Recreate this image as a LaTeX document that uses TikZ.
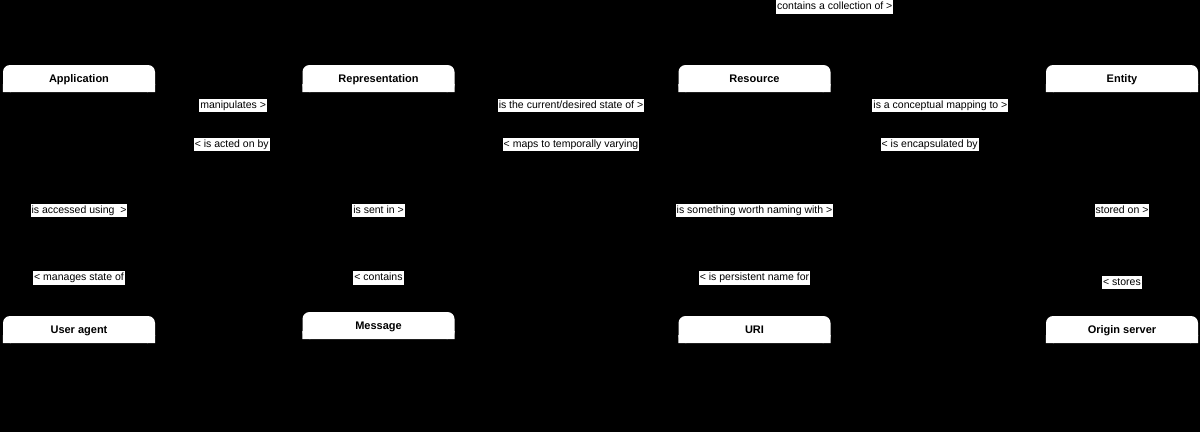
\documentclass[tikz,border=0pt]{standalone}
\usepackage{fontspec}
\setmainfont{Liberation Sans}

\begin{document}
\begin{tikzpicture}[x=1pt,y=-1pt,
    cls/.style={draw=black,minimum width=152pt,minimum height=100pt,inner sep=0pt},
    head/.style={fill=white,rounded corners=7pt,minimum width=152pt,minimum height=27pt,
      inner sep=0pt,text height=8pt,text depth=0pt,font=\fontsize{11}{13}\selectfont\bfseries,
      append after command={\pgfextra{\fill[white,sharp corners]
        (\tikzlastnode.south west) rectangle ++(8pt,8pt)
        (\tikzlastnode.south east) rectangle ++(-8pt,8pt);}}},
    lbl/.style={fill=white,inner xsep=1pt,inner ysep=1.5pt,text height=8pt,text depth=2.5pt,
      font=\fontsize{10.5}{12}\selectfont},
    rel/.style={draw=black,thin}]
      \useasboundingbox (0,0) rectangle (1200,432) ;
      \fill[black] (0,0) rectangle (1200,432) ;
      % classes
      \node[cls] (App) at (79,115) {} ;
      \node[cls] (Rep) at (378.5,115) {} ;
      \node[cls] (Res) at (754.5,115) {} ;
      \node[cls] (Ent) at (1122,115) {} ;
      \node[cls] (UA) at (79,366) {} ;
      \node[cls] (Msg) at (378.5,362) {} ;
      \node[cls] (URI) at (754.5,366) {} ;
      \node[cls] (OS) at (1122,366) {} ;
      \node[head,anchor=north] (hApp) at (App.north) {Application} ;
      \node[head,anchor=north] (hRep) at (Rep.north) {Representation} ;
      \node[head,anchor=north] (hRes) at (Res.north) {Resource} ;
      \node[head,anchor=north] (hEnt) at (Ent.north) {Entity} ;
      \node[head,anchor=north] (hUA) at (UA.north) {User agent} ;
      \node[head,anchor=north] (hMsg) at (Msg.north) {Message} ;
      \node[head,anchor=north] (hURI) at (URI.north) {URI} ;
      \node[head,anchor=north] (hOS) at (OS.north) {Origin server} ;
      % self relation of resource
      \coordinate (loop) at (915,7) ;
      \draw[rel] (Res.north) |- node[lbl,pos=.75]{contains a collection of >} (loop) |- (Res.east) ;
      % relations, left to right
      \draw[rel] (App.east |- 0,105.5) -- node[lbl,pos=.53]{manipulates >} (Rep.west |- 0,105.5)
        (Rep.west |- 0,144.5) -- node[lbl,pos=.48]{< is acted on by} (App.east |- 0,144.5) ;
      \draw[rel] (Rep.east |- 0,105.5) -- node[lbl,pos=.52]{is the current/desired state of >} (Res.west |- 0,105.5)
        (Res.west |- 0,144.5) -- node[lbl,pos=.48]{< maps to temporally varying} (Rep.east |- 0,144.5) ;
      \draw[rel] (Res.east |- 0,105.5) -- node[lbl,pos=.51]{is a conceptual mapping to >} (Ent.west |- 0,105.5)
        (Ent.west |- 0,144.5) -- node[lbl,pos=.54]{< is encapsulated by} (Res.east |- 0,144.5) ;
      % relations, top to bottom
      \draw[rel] (App.south) -- node[lbl,pos=.30]{is accessed using~ >} (UA.north)
        (UA.north) -- node[lbl,pos=.25]{< manages state of} (App.south) ;
      \draw[rel] (Rep.south) -- node[lbl,pos=.31]{is sent in >} (Msg.north)
        (Msg.north) -- node[lbl,pos=.23]{< contains} (Rep.south) ;
      \draw[rel] (Res.south) -- node[lbl,pos=.30]{is something worth naming with >} (URI.north)
        (URI.north) -- node[lbl,pos=.25]{< is persistent name for} (Res.south) ;
      \draw[rel] (Ent.south) -- node[lbl,pos=.30]{stored on >} (OS.north)
        (OS.north) -- node[lbl,pos=.22]{< stores} (Ent.south) ;
    \end{tikzpicture}
\end{document}
